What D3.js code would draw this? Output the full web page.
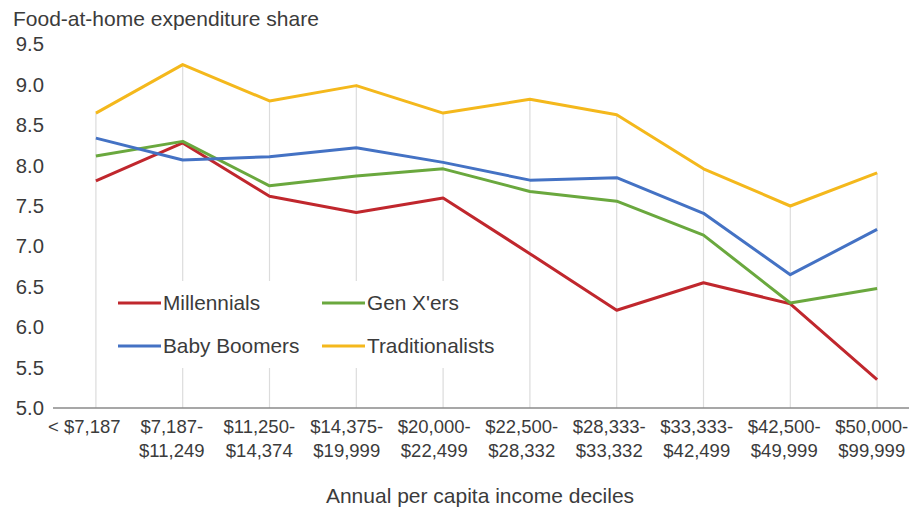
<!DOCTYPE html>
<html>
<head>
<meta charset="utf-8">
<script src="https://cdn.jsdelivr.net/npm/d3@7"></script>
<style>
  html, body { margin: 0; padding: 0; background: #fff; }
  svg { display: block; font-family: "Liberation Sans", Arial, Helvetica, sans-serif; }
</style>
</head>
<body>
<svg id="chart" width="909" height="508"></svg>
<script>
// Income deciles (x categories)
const deciles = [
  "< $7,187", "$7,187-$11,249", "$11,250-$14,374", "$14,375-$19,999",
  "$20,000-$22,499", "$22,500-$28,332", "$28,333-$33,332", "$33,333-$42,499",
  "$42,500-$49,999", "$50,000-$99,999"
];

// Food-at-home expenditure share by generation
const millennials     = [7.81, 8.28, 7.62, 7.42, 7.60, 6.91, 6.21, 6.55, 6.29, 5.35];
const genXers         = [8.12, 8.30, 7.75, 7.87, 7.96, 7.68, 7.56, 7.14, 6.30, 6.48];
const babyBoomers     = [8.34, 8.07, 8.11, 8.22, 8.04, 7.82, 7.85, 7.41, 6.65, 7.21];
const traditionalists = [8.65, 9.25, 8.80, 8.99, 8.65, 8.82, 8.63, 7.96, 7.50, 7.91];

const seriesNames  = ["Millennials", "Gen X'ers", "Baby Boomers", "Traditionalists"];
const seriesValues = [millennials, genXers, babyBoomers, traditionalists];
const seriesColors = ["#c0272d", "#6aa83e", "#4472c4", "#f4b81c"];

const yTicks = [5.0, 5.5, 6.0, 6.5, 7.0, 7.5, 8.0, 8.5, 9.0, 9.5];

const svg = d3.select("#chart");
const textColor = "#3b3b3b";

const x = d3.scalePoint().domain(deciles).range([52.5, 920.5]).padding(0.5);
// category labels sit on a slightly wider spacing than the points
const xLabel = d3.scalePoint().domain(deciles).range([40, 915]).padding(0.5);
const y = d3.scaleLinear().domain([5, 9.5]).range([408, 44.4]);

// Title
svg.append("text")
  .attr("x", 13).attr("y", 26)
  .attr("font-size", 21).attr("fill", textColor)
  .text("Food-at-home expenditure share");

// Drop lines from the highest series down to the axis
const maxByDecile = deciles.map((d, i) => d3.max(seriesValues, s => s[i]));
svg.append("g").selectAll("line")
  .data(deciles)
  .join("line")
  .attr("x1", d => x(d)).attr("x2", d => x(d))
  .attr("y1", (d, i) => y(maxByDecile[i]))
  .attr("y2", y(5))
  .attr("stroke", "#dcdcdc").attr("stroke-width", 1.2);

// Y axis labels
const yAxis = svg.append("g")
  .attr("transform", "translate(53,0)")
  .call(d3.axisLeft(y).tickValues(yTicks).tickFormat(d3.format(".1f")).tickSize(0).tickPadding(9));
yAxis.select(".domain").remove();
yAxis.selectAll("text")
  .attr("font-size", 20.3).attr("fill", textColor)
  .attr("font-family", "Liberation Sans, Arial, sans-serif");

// X axis line
const xAxis = svg.append("g")
  .attr("transform", `translate(0,${y(5)})`)
  .call(d3.axisBottom(x).tickSize(0).tickFormat(() => ""));
xAxis.selectAll(".tick").remove();
xAxis.select(".domain")
  .attr("d", `M53,0H909`)
  .attr("stroke", "#8a8a8a").attr("stroke-width", 1.6);

// X category labels, split after the hyphen into two lines
const xLabels = svg.append("g")
  .attr("transform", `translate(0,${y(5)})`)
  .call(d3.axisBottom(xLabel).tickSize(0).tickFormat(() => ""));
xLabels.select(".domain").remove();
xLabels.selectAll(".tick").each(function (d) {
  const g = d3.select(this);
  g.select("text").remove();
  const cut = d.indexOf("-");
  const lines = cut >= 0 ? [d.slice(0, cut + 1), d.slice(cut + 1)] : [d];
  const t = g.append("text")
    .attr("text-anchor", "middle")
    .attr("font-size", 18.5)
    .attr("fill", textColor)
    .attr("font-family", "Liberation Sans, Arial, sans-serif");
  lines.forEach((ln, k) => {
    t.append("tspan").attr("x", 0).attr("y", 25 + k * 23.5).text(ln);
  });
});

// X axis title
svg.append("text")
  .attr("x", 480).attr("y", 503)
  .attr("text-anchor", "middle")
  .attr("font-size", 21).attr("fill", textColor)
  .text("Annual per capita income deciles");

// Series lines
const line = d3.line().x((v, i) => x(deciles[i])).y(v => y(v));
svg.append("g").selectAll("path")
  .data(seriesValues)
  .join("path")
  .attr("d", line)
  .attr("fill", "none")
  .attr("stroke", (d, i) => seriesColors[i])
  .attr("stroke-width", 3)
  .attr("stroke-linejoin", "round");

// Legend with white background
const legend = svg.append("g");
legend.append("rect")
  .attr("x", 106).attr("y", 281).attr("width", 400).attr("height", 87)
  .attr("fill", "#fff");
const legendPos = [[118, 303], [322, 303], [118, 346], [322, 346]];
seriesNames.forEach((name, i) => {
  const [lx, ly] = legendPos[i];
  legend.append("line")
    .attr("x1", lx).attr("x2", lx + 43)
    .attr("y1", ly).attr("y2", ly)
    .attr("stroke", seriesColors[i]).attr("stroke-width", 3);
  legend.append("text")
    .attr("x", lx + 45).attr("y", ly + 7)
    .attr("font-size", 20.8).attr("fill", textColor)
    .text(name);
});
</script>
</body>
</html>
